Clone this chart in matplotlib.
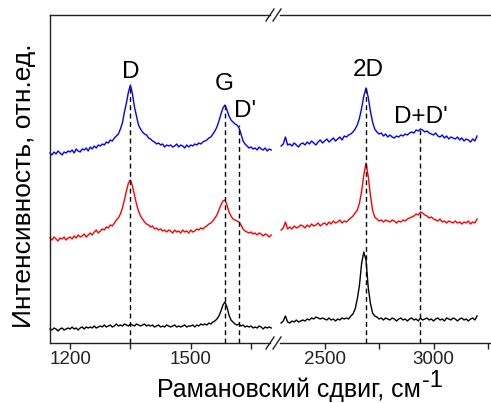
import numpy as np
import matplotlib
matplotlib.use("Agg")
import matplotlib.pyplot as plt
from matplotlib.lines import Line2D

plt.rcParams['font.family'] = ['Liberation Sans', 'DejaVu Sans']

# ---------------- data (intensity in arbitrary units, offset spectra) ----------------
x_left = np.arange(1150, 1701, 5)
x_right = np.arange(2300, 3201, 10)

blue_left = [190, 188, 191, 189, 192, 190, 188, 191, 190, 192,
             191, 193, 190, 194, 192, 191, 194, 193, 195, 192,
             196, 194, 197, 195, 198, 197, 199, 198, 201, 200,
             203, 202, 205, 207, 209, 214, 220, 231, 240, 251,
             258, 249, 236, 227, 218, 214, 211, 209, 208, 205,
             204, 202, 201, 199, 200, 198, 199, 196, 198, 197,
             198, 196, 197, 199, 196, 198, 197, 195, 198, 196,
             198, 197, 199, 198, 200, 199, 201, 202, 203, 205,
             206, 209, 212, 216, 222, 229, 235, 238, 233, 227,
             223, 221, 219, 218, 215, 209, 202, 199, 197, 195,
             196, 194, 195, 193, 196, 194, 193, 195, 192, 194,
             193]
red_left = [105, 103, 106, 104, 102, 105, 104, 106, 103, 105,
            106, 104, 107, 105, 108, 106, 107, 109, 106, 108,
            110, 108, 111, 113, 110, 112, 114, 113, 116, 115,
            118, 117, 120, 123, 125, 129, 135, 143, 152, 160,
            163, 157, 148, 139, 132, 127, 124, 121, 119, 118,
            116, 117, 114, 115, 113, 114, 112, 113, 111, 113,
            112, 110, 113, 111, 112, 110, 113, 111, 112, 110,
            113, 111, 112, 114, 113, 115, 114, 116, 117, 119,
            120, 122, 125, 128, 133, 138, 142, 143, 138, 131,
            127, 124, 123, 122, 121, 118, 114, 112, 111, 110,
            111, 109, 110, 108, 110, 109, 107, 109, 108, 106,
            108]
black_left = [14, 13, 15, 14, 12, 14, 15, 13, 14, 15,
              14, 16, 14, 15, 13, 15, 16, 14, 16, 15,
              16, 15, 17, 15, 16, 17, 16, 18, 16, 17,
              18, 16, 17, 19, 17, 18, 17, 19, 18, 17,
              19, 18, 17, 19, 18, 17, 18, 19, 17, 18,
              17, 18, 16, 17, 18, 16, 17, 16, 18, 17,
              16, 17, 18, 16, 17, 16, 17, 18, 16, 17,
              17, 18, 16, 18, 17, 19, 18, 19, 18, 20,
              19, 21, 22, 24, 27, 32, 38, 41, 36, 28,
              23, 21, 19, 18, 19, 17, 18, 16, 17, 16,
              17, 15, 16, 15, 17, 16, 14, 16, 15, 16,
              15]

blue_right = [197, 199, 206, 198, 199, 197, 200, 198, 196, 199,
              200, 198, 201, 199, 202, 200, 198, 201, 203, 200,
              202, 204, 201, 203, 205, 202, 204, 206, 203, 207,
              206, 208, 209, 211, 214, 218, 225, 235, 247, 255,
              246, 232, 221, 214, 211, 209, 210, 207, 209, 206,
              208, 206, 205, 207, 206, 208, 207, 209, 208, 210,
              211, 210, 213, 212, 214, 213, 211, 212, 210, 209,
              208, 210, 207, 206, 208, 205, 207, 204, 206, 205,
              204, 206, 203, 205, 202, 204, 203, 201, 204, 202,
              207]
red_right = [113, 115, 121, 114, 116, 114, 117, 115, 116, 118,
             117, 115, 118, 116, 119, 117, 118, 120, 117, 119,
             120, 118, 121, 119, 122, 120, 121, 123, 120, 122,
             121, 123, 125, 127, 130, 133, 140, 152, 168, 180,
             167, 148, 133, 126, 124, 122, 123, 121, 123, 122,
             121, 123, 122, 120, 122, 121, 123, 122, 124, 125,
             126, 127, 129, 128, 131, 130, 128, 127, 125, 126,
             124, 123, 122, 124, 121, 122, 120, 122, 121, 120,
             122, 120, 121, 119, 121, 120, 122, 119, 121, 120,
             124]
black_right = [20, 22, 27, 21, 20, 22, 21, 23, 21, 22,
               23, 22, 24, 23, 25, 24, 26, 25, 24, 25,
               24, 23, 25, 23, 24, 22, 24, 23, 25, 24,
               25, 24, 27, 29, 34, 44, 58, 80, 91, 83,
               56, 40, 30, 27, 26, 24, 25, 23, 25, 24,
               23, 25, 24, 22, 24, 25, 23, 24, 22, 24,
               25, 23, 24, 22, 25, 23, 24, 25, 23, 24,
               22, 24, 25, 23, 24, 22, 25, 24, 23, 25,
               24, 22, 24, 25, 23, 24, 22, 24, 25, 23,
               27]

peak_pos_left = [1350, 1584, 1619]
peak_top_left = [258, 238, 218]
peak_pos_right = [2690, 2936]
peak_top_right = [255, 213]

xticks_left = [1200, 1500]
xminor_left = [1350, 1650]
xticks_right = [2500, 3000]
xminor_right = [2750, 3250]

# ---------------- layout ----------------
W, H = 491, 403
fig = plt.figure(figsize=(W / 100, H / 100), dpi=100)

def fx(px):
    return px / W

def fy(py):
    return (H - py) / H

top_px, bot_px = 15, 343
axL = fig.add_axes([fx(50), fy(bot_px), fx(270) - fx(50), fy(top_px) - fy(bot_px)])
axR = fig.add_axes([fx(280), fy(bot_px), fx(491) - fx(280), fy(top_px) - fy(bot_px)])

ymax = bot_px - top_px
axL.set_xlim(1150, 1697)
axR.set_xlim(2295, 3264)
for ax in (axL, axR):
    ax.set_ylim(0, ymax)
    ax.set_yticks([])
    ax.patch.set_alpha(0)
    for s in ax.spines.values():
        s.set_linewidth(1.0)
        s.set_color('#222222')
    ax.tick_params(axis='x', which='both', direction='out', length=4.5, width=1,
                   labelsize=13.5, pad=1.5, colors='#222222', labelcolor='#222222')
axL.spines['right'].set_visible(False)
axR.spines['left'].set_visible(False)
axR.spines['right'].set_visible(False)

axL.set_xticks(xticks_left)
axL.set_xticks(xminor_left, minor=True)
axR.set_xticks(xticks_right)
axR.set_xticks(xminor_right, minor=True)

lw = 1.0
axL.plot(x_left, black_left, color='black', lw=lw, clip_on=False)
axL.plot(x_left, red_left, color='#ff0000', lw=lw, clip_on=False)
axL.plot(x_left, blue_left, color='#0000ff', lw=lw, clip_on=False)
axR.plot(x_right, black_right, color='black', lw=lw, clip_on=False)
axR.plot(x_right, red_right, color='#ff0000', lw=lw, clip_on=False)
axR.plot(x_right, blue_right, color='#0000ff', lw=lw, clip_on=False)

dash = (0, (3.5, 2.5))
for x, t in zip(peak_pos_left, peak_top_left):
    axL.plot([x, x], [0, t], color='black', lw=1.0, linestyle=dash)
for x, t in zip(peak_pos_right, peak_top_right):
    axR.plot([x, x], [0, t], color='black', lw=1.0, linestyle=dash)

# peak labels
fs_peak = 17.5
axL.text(1350, 265, 'D', ha='center', va='baseline', fontsize=fs_peak)
axL.text(1584, 253, 'G', ha='center', va='baseline', fontsize=fs_peak)
axL.text(1636, 226, "D'", ha='center', va='baseline', fontsize=fs_peak)
axR.text(2698, 267, '2D', ha='center', va='baseline', fontsize=fs_peak)
axR.text(2941, 220, "D+D'", ha='center', va='baseline', fontsize=fs_peak)

# break marks
for cy in (top_px, bot_px):
    for x0 in (266, 273):
        fig.add_artist(Line2D([fx(x0), fx(x0 + 8)], [fy(cy + 6), fy(cy - 6)],
                              color='#222222', lw=1.0))

# axis labels
xl = fig.text(fx(157), fy(397), 'Рамановский сдвиг, см', ha='left', va='baseline', fontsize=18)
fig.canvas.draw()
bb = xl.get_window_extent(renderer=fig.canvas.get_renderer())
fig.text(bb.x1 / W + fx(1), fy(387), '-1', ha='left', va='baseline', fontsize=17)
fig.text(fx(24), fy(186), 'Интенсивность, отн.ед.', ha='center', va='center',
         rotation=90, fontsize=19)

fig.savefig('out.png', dpi=100)
